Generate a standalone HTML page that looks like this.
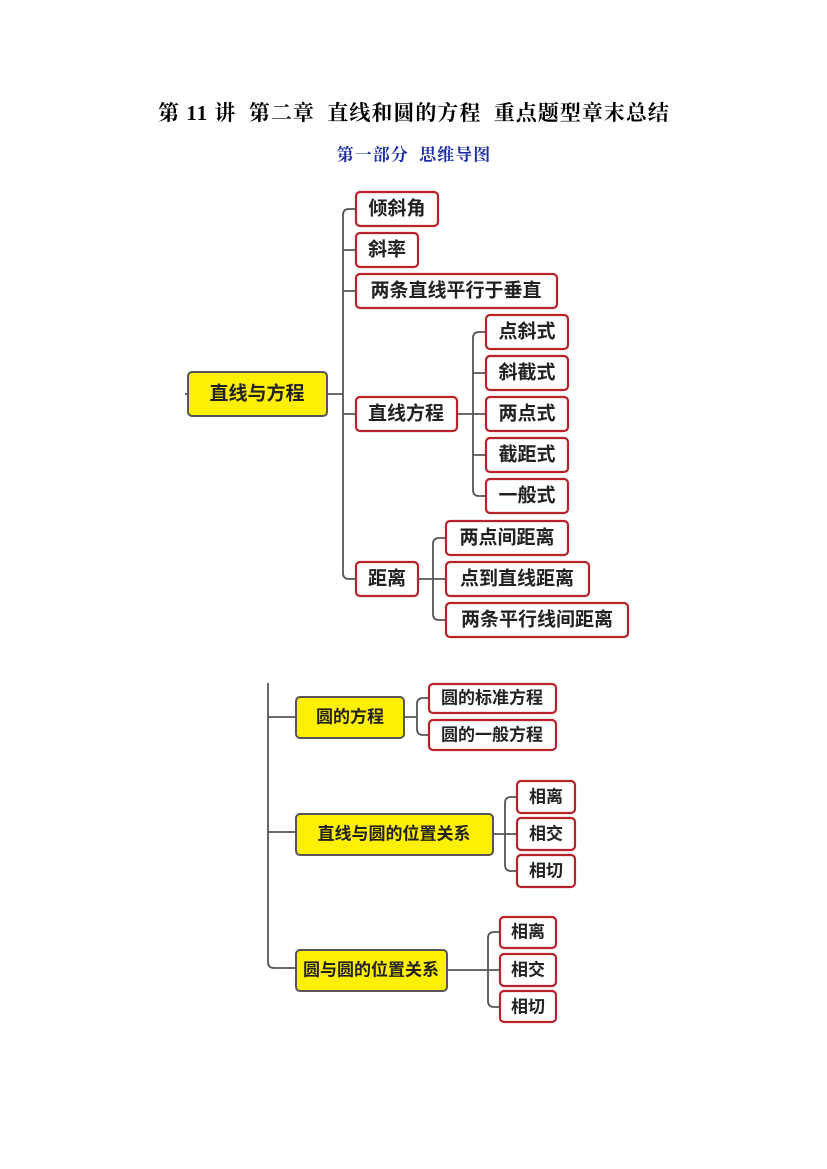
<!DOCTYPE html>
<html><head><meta charset="utf-8"><style>
html,body{margin:0;padding:0;background:#fff;}
svg{display:block}
text{font-family:"Liberation Sans","Noto Sans CJK SC",sans-serif;font-weight:bold;}
.w{fill:#fff;stroke:#b8222a;stroke-width:2.2}
.y{fill:#ffef00;stroke:#555;stroke-width:2}
.l{fill:none;stroke:#555;stroke-width:1.8}
.t{font-size:19px;fill:#222;dominant-baseline:central}
.s{font-size:17px;fill:#222;dominant-baseline:central}
</style></head><body>
<svg width="827" height="1169" viewBox="0 0 827 1169">
<text x="414" y="113" text-anchor="middle" style="font-family:'Liberation Serif','Noto Serif CJK SC',serif;font-size:21px;fill:#000;letter-spacing:1px" dominant-baseline="central" xml:space="preserve">第 11 讲  第二章  直线和圆的方程  重点题型章末总结</text>
<text x="414" y="155" text-anchor="middle" style="font-family:'Liberation Serif','Noto Serif CJK SC',serif;font-size:17px;fill:#1f2fa8;letter-spacing:1px" dominant-baseline="central" xml:space="preserve">第一部分  思维导图</text>

<!-- top connectors -->
<path class="l" d="M185 394 H188 M327 394 H343 M356 209 H349 Q343 209 343 215 V573 Q343 579 349 579 H356 M343 250 H356 M343 291 H356 M343 414 H356"/>
<path class="l" d="M457 414 H486 M486 332 H479 Q473 332 473 338 V490 Q473 496 479 496 H486 M473 373 H486 M473 455 H486"/>
<path class="l" d="M418 579 H446 M446 538 H439 Q433 538 433 544 V614 Q433 620 439 620 H446"/>

<rect class="y" x="188" y="372" width="139" height="44" rx="4"/><text class="t" x="257" y="394" text-anchor="middle">直线与方程</text>
<rect class="w" x="356" y="192" width="82" height="34" rx="4"/><text class="t" x="397" y="209" text-anchor="middle">倾斜角</text>
<rect class="w" x="356" y="233" width="62" height="34" rx="4"/><text class="t" x="387" y="250" text-anchor="middle">斜率</text>
<rect class="w" x="356" y="274" width="201" height="34" rx="4"/><text class="t" x="456" y="291" text-anchor="middle">两条直线平行于垂直</text>
<rect class="w" x="356" y="397" width="101" height="34" rx="4"/><text class="t" x="406" y="414" text-anchor="middle">直线方程</text>
<rect class="w" x="486" y="315" width="82" height="34" rx="4"/><text class="t" x="527" y="332" text-anchor="middle">点斜式</text>
<rect class="w" x="486" y="356" width="82" height="34" rx="4"/><text class="t" x="527" y="373" text-anchor="middle">斜截式</text>
<rect class="w" x="486" y="397" width="82" height="34" rx="4"/><text class="t" x="527" y="414" text-anchor="middle">两点式</text>
<rect class="w" x="486" y="438" width="82" height="34" rx="4"/><text class="t" x="527" y="455" text-anchor="middle">截距式</text>
<rect class="w" x="486" y="479" width="82" height="34" rx="4"/><text class="t" x="527" y="496" text-anchor="middle">一般式</text>
<rect class="w" x="356" y="562" width="62" height="34" rx="4"/><text class="t" x="387" y="579" text-anchor="middle">距离</text>
<rect class="w" x="446" y="521" width="122" height="34" rx="4"/><text class="t" x="507" y="538" text-anchor="middle">两点间距离</text>
<rect class="w" x="446" y="562" width="143" height="34" rx="4"/><text class="t" x="517" y="579" text-anchor="middle">点到直线距离</text>
<rect class="w" x="446" y="603" width="182" height="34" rx="4"/><text class="t" x="537" y="620" text-anchor="middle">两条平行线间距离</text>

<!-- bottom -->
<path class="l" d="M268 683 V962 Q268 968 274 968 H296 M268 717 H296 M268 832 H296"/>
<path class="l" d="M404 717 H417 M429 698 H423 Q417 698 417 704 V729 Q417 735 423 735 H429"/>
<path class="l" d="M493 834 H517 M517 797 H511 Q505 797 505 803 V865 Q505 871 511 871 H517"/>
<path class="l" d="M447 970 H500 M500 932 H494 Q488 932 488 938 V1001 Q488 1007 494 1007 H500"/>

<rect class="y" x="296" y="697" width="108" height="41" rx="4"/><text class="s" x="350" y="717" text-anchor="middle">圆的方程</text>
<rect class="w" x="429" y="684" width="127" height="29" rx="4"/><text class="s" x="492" y="698" text-anchor="middle">圆的标准方程</text>
<rect class="w" x="429" y="720" width="127" height="30" rx="4"/><text class="s" x="492" y="735" text-anchor="middle">圆的一般方程</text>
<rect class="y" x="296" y="814" width="197" height="41" rx="4"/><text class="s" x="394" y="834" text-anchor="middle">直线与圆的位置关系</text>
<rect class="w" x="517" y="781" width="58" height="32" rx="4"/><text class="s" x="546" y="797" text-anchor="middle">相离</text>
<rect class="w" x="517" y="818" width="58" height="32" rx="4"/><text class="s" x="546" y="834" text-anchor="middle">相交</text>
<rect class="w" x="517" y="855" width="58" height="32" rx="4"/><text class="s" x="546" y="871" text-anchor="middle">相切</text>
<rect class="y" x="296" y="950" width="151" height="41" rx="4"/><text class="s" x="371" y="970" text-anchor="middle">圆与圆的位置关系</text>
<rect class="w" x="500" y="917" width="56" height="31" rx="4"/><text class="s" x="528" y="932" text-anchor="middle">相离</text>
<rect class="w" x="500" y="954" width="56" height="32" rx="4"/><text class="s" x="528" y="970" text-anchor="middle">相交</text>
<rect class="w" x="500" y="991" width="56" height="31" rx="4"/><text class="s" x="528" y="1007" text-anchor="middle">相切</text>
</svg>
</body></html>
